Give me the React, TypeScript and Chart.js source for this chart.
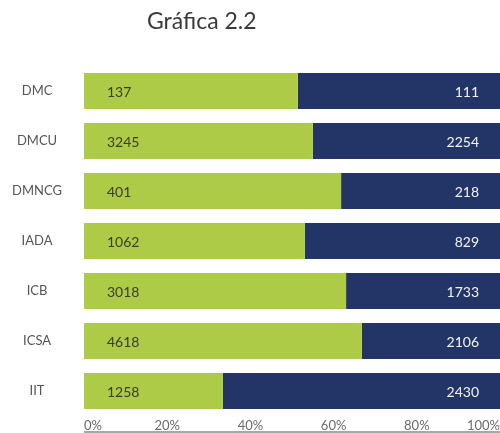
import React, { useEffect, useRef } from "react";
import { Chart, registerables } from "chart.js";

Chart.register(...registerables);

// ---- Data ----
const title = "Gráfica 2.2";
const categories = ["DMC", "DMCU", "DMNCG", "IADA", "ICB", "ICSA", "IIT"];
const greenCounts = [137, 3245, 401, 1062, 3018, 4618, 1258];
const blueCounts = [111, 2254, 218, 829, 1733, 2106, 2430];
// share of each bar (percent) as drawn in the picture
const greenShare = [51.4, 55.0, 61.8, 53.1, 63.0, 66.8, 33.4];
const blueShare = [48.6, 45.0, 38.2, 46.9, 37.0, 33.2, 66.6];
const xTickValues = [0, 20, 40, 60, 80, 100];

const FONT = "Lato, 'Open Sans', sans-serif";
const GREEN = "#aecb48";
const NAVY = "#233567";

export default function App() {
  const canvasRef = useRef<HTMLCanvasElement | null>(null);

  useEffect(() => {
    let chart: Chart | null = null;
    let cancelled = false;

    const labelPlugin = {
      id: "barLabels",
      afterDatasetsDraw(c: any) {
        const ctx = c.ctx;
        ctx.save();
        ctx.font = `14px ${FONT}`;
        ctx.textBaseline = "middle";
        const m0 = c.getDatasetMeta(0);
        ctx.fillStyle = "#3a3d2c";
        ctx.textAlign = "left";
        m0.data.forEach((bar: any, i: number) => {
          ctx.fillText(String(greenCounts[i]), bar.base + 23, bar.y + 1);
        });
        const m1 = c.getDatasetMeta(1);
        ctx.fillStyle = "#f4f4f4";
        ctx.textAlign = "right";
        m1.data.forEach((bar: any, i: number) => {
          ctx.fillText(String(blueCounts[i]), bar.x - 21, bar.y + 1);
        });
        ctx.restore();
      },
    };

    const decoPlugin = {
      id: "deco",
      afterDraw(c: any) {
        const ctx = c.ctx;
        const xs = c.scales.x;
        ctx.save();
        ctx.strokeStyle = "#8a8a8a";
        ctx.lineWidth = 1.5;
        ctx.beginPath();
        ctx.moveTo(xs.left, xs.bottom - 1);
        ctx.lineTo(xs.right, xs.bottom - 1);
        ctx.stroke();
        ctx.font = `23px ${FONT}`;
        ctx.fillStyle = "#3a3a3a";
        ctx.textAlign = "left";
        ctx.textBaseline = "alphabetic";
        ctx.fillText(title, 147, 29);
        ctx.restore();
      },
    };

    const build = () => {
      if (cancelled || !canvasRef.current) return;
      chart = new Chart(canvasRef.current, {
        type: "bar",
        data: {
          labels: categories,
          datasets: [
            {
              label: "A",
              data: greenShare,
              backgroundColor: GREEN,
              borderWidth: 0,
              categoryPercentage: 1,
              barPercentage: 0.72,
            },
            {
              label: "B",
              data: blueShare,
              backgroundColor: NAVY,
              borderWidth: 0,
              categoryPercentage: 1,
              barPercentage: 0.72,
            },
          ],
        },
        options: {
          indexAxis: "y",
          responsive: true,
          maintainAspectRatio: false,
          animation: false,
          layout: { padding: { top: 66, left: 0, right: 0, bottom: 0 } },
          plugins: {
            legend: { display: false },
            title: { display: false },
            tooltip: { enabled: false },
          },
          scales: {
            x: {
              stacked: true,
              min: 0,
              max: 100,
              afterBuildTicks: (s: any) => {
                s.ticks = xTickValues.map((v) => ({ value: v }));
              },
              afterFit: (s: any) => {
                s.height = 17;
                s.paddingLeft = 0;
                s.paddingRight = 0;
              },
              grid: { display: false, drawTicks: false },
              border: { display: false },
              ticks: {
                align: "inner",
                padding: 2,
                color: "#6b6b6b",
                font: { family: FONT, size: 13 },
                callback: (v: any) => `${v}%`,
              },
            },
            y: {
              stacked: true,
              afterFit: (s: any) => {
                s.width = 84;
                s.paddingTop = 0;
                s.paddingBottom = 0;
              },
              grid: { display: false, drawTicks: false },
              border: { display: false },
              ticks: {
                crossAlign: "center",
                padding: 22,
                color: "#555555",
                font: { family: FONT, size: 13 },
              },
            },
          },
        },
        plugins: [labelPlugin, decoPlugin],
      });
    };

    const fonts: any = (document as any).fonts;
    if (fonts && fonts.load) {
      Promise.all([fonts.load(`14px Lato`), fonts.load(`23px Lato`)])
        .catch(() => null)
        .then(build);
    } else {
      build();
    }

    return () => {
      cancelled = true;
      if (chart) chart.destroy();
    };
  }, []);

  return (
    <div
      style={{
        position: "fixed",
        left: 0,
        top: 0,
        width: 500,
        height: 433,
        background: "#ffffff",
      }}
    >
      <canvas ref={canvasRef} />
    </div>
  );
}
